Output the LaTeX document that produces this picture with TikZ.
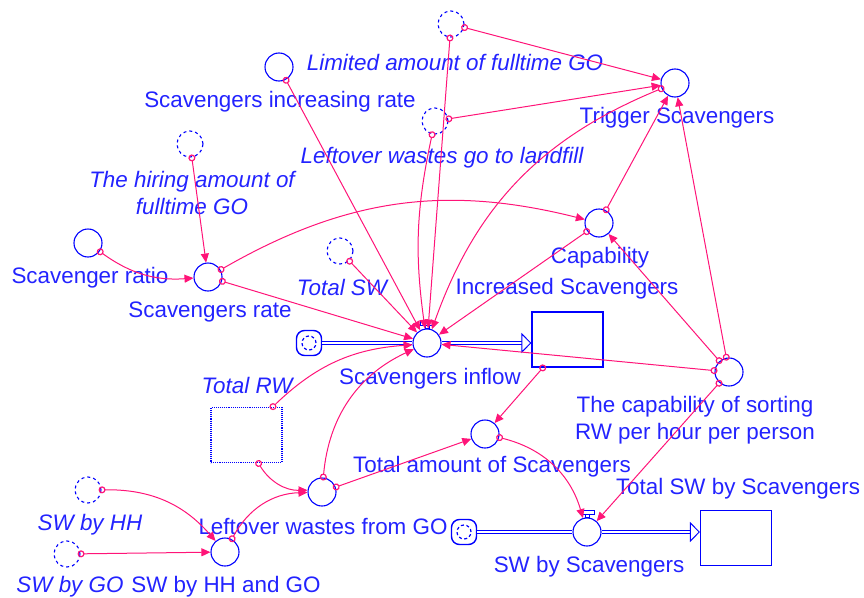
\documentclass[tikz,border=0pt]{standalone}
\usepackage{fontspec}
\setmainfont{Liberation Sans}
\usetikzlibrary{arrows.meta,calc}

\definecolor{vblue}{RGB}{0,0,255}
\definecolor{tblue}{RGB}{35,35,255}
\definecolor{lpink}{RGB}{255,20,120}

\tikzset{
  aux/.style={circle, draw=vblue, line width=1.1pt, minimum size=28pt, inner sep=0pt, fill=white},
  shadowvar/.style={aux, dashed, minimum size=26pt},
  stockbox/.style={rectangle, draw=vblue, line width=1.1pt, minimum width=71pt, minimum height=55pt, inner sep=0pt, fill=white},
  ghostbox/.style={stockbox, densely dotted},
  srccloud/.style={rectangle, rounded corners=8pt, draw=vblue, line width=1.4pt, minimum size=25pt, inner sep=0pt, fill=white,
    path picture={\draw [vblue, dash pattern=on 3pt off 2.5pt, line width=1.2pt] (path picture bounding box.center) circle (7pt);}},
  lbl/.style={text=tblue, inner sep=0pt, font=\fontsize{22.4}{27}\selectfont, align=center},
  ilbl/.style={lbl, font=\fontsize{22.4}{27}\selectfont\itshape},
  infolink/.style={draw=lpink, line width=1pt, shorten <=-3pt,
    {Circle[open,length=7pt,width=7pt,line width=1.2pt]}-{Triangle[length=9pt,width=8pt]}},
  pipe/.style={draw=vblue, line width=1.1pt, double=white, double distance=2.6pt},
  pipehead/.style={-{Triangle[open,length=10pt,width=20pt,line width=1pt,fill=white]}}
}

\begin{document}
\begin{tikzpicture} [x=1pt, y=-1pt]
\useasboundingbox (0,0) rectangle (864,597);

% variables
\node [aux] (sir) at (279,67) {};
\node [lbl] (sirl) at (280,102) {Scavengers increasing rate};

\node [shadowvar] (lag) at (451,24) {};
\node [ilbl] (lagl) at (455,62) {Limited amount of fulltime GO};

\node [shadowvar] (lwl) at (435,121) {};
\node [ilbl] (lwll) at (442,158) {Leftover wastes go to landfill};

\node [aux] (trg) at (675,83) {};
\node [lbl] (trgl) at (677,118) {Trigger Scavengers};

\node [aux] (cap) at (599,223) {};
\node [lbl] (capl) at (600,258) {Capability};

\node [aux] (sra) at (88,243) {};
\node [lbl] (sral) at (90,278) {Scavenger ratio};

\node [shadowvar] (hir) at (190,144) {};
\node [ilbl] (hirl) at (192,193) {The hiring amount of\\fulltime GO};

\node [aux] (srt) at (208,277) {};
\node [lbl] (srtl) at (210,312) {Scavengers rate};

\node [shadowvar] (tsw) at (340,251) {};
\node [ilbl] (tswl) at (342,287) {Total SW};

\node [aux] (cos) at (729,372) {};
\node [lbl] (cosl) at (695,420) {The capability of sorting\\RW per hour per person};

\node [aux] (tas) at (485,434) {};
\node [lbl] (tasl) at (492,467) {Total amount of Scavengers};

\node [ghostbox] (trw) at (246.5,435) {};
\node [ilbl] (trwl) at (247,385) {Total RW};

\node [aux] (lgo) at (322,492) {};
\node [lbl] (lgol) at (323,526) {Leftover wastes from GO};

\node [aux] (hg) at (225,552) {};
\node [lbl] (hgl) at (226,587) {SW by HH and GO};

\node [shadowvar] (shh) at (88,490) {};
\node [ilbl] (shhl) at (90,525) {SW by HH};

\node [shadowvar] (sgo) at (67,554) {};
\node [ilbl] (sgol) at (70,587) {SW by GO};

% flows and stocks
\node [srccloud] (src1) at (309,343) {};
\node [aux] (inf) at (427,343) {};
\node [lbl] (infl) at (430,379) {Scavengers inflow};
\node [stockbox] (isc) at (567.5,339.5) {};
\node [lbl] (iscl) at (567,289) {Increased Scavengers};

\node [srccloud] (src2) at (464,532) {};
\node [aux] (svs) at (587,532) {};
\node [lbl] (svsl) at (589,567) {SW by Scavengers};
\node [stockbox] (tss) at (736,538) {};
\node [lbl] (tssl) at (738,489) {Total SW by Scavengers};

\draw [pipe] (src1) -- (inf);
\draw [pipe, pipehead] (inf) -- (inf -| isc.west);
\draw [pipe] (src2) -- (svs);
\draw [pipe, pipehead] (svs) -- (svs -| tss.west);

\draw [vblue, line width=1pt] ($(inf.north)+(-7,-7)$) rectangle ($(inf.north)+(7,-3)$);
\draw [vblue, line width=1pt] ($(inf.north)+(-2,-3)$) rectangle ($(inf.north)+(2,0)$);
\draw [vblue, line width=1pt] ($(svs.north)+(-7,-7)$) rectangle ($(svs.north)+(7,-3)$);
\draw [vblue, line width=1pt] ($(svs.north)+(-2,-3)$) rectangle ($(svs.north)+(2,0)$);

% links
\draw [infolink] (sir) -- (inf);
\draw [infolink] (lag) -- (inf);
\draw [infolink] (lag) -- (trg);
\draw [infolink] (lwl) to [bend right=10] (inf);
\draw [infolink] (lwl) -- (trg);
\draw [infolink] (trg) to [bend right=24] (inf);
\draw [infolink] (cap) -- (inf);
\draw [infolink] (cap) -- (trg);
\draw [infolink] (srt) to [bend left=22] (cap);
\draw [infolink] (srt) -- (inf);
\draw [infolink] (sra) to [bend right=20] (srt);
\draw [infolink] (hir) -- (srt);
\draw [infolink] (tsw) -- (inf);
\draw [infolink] (trw) to [bend left=20] (inf);
\draw [infolink] (trw) to [bend right=30] (lgo);
\draw [infolink] (lgo) to [bend left=30] (inf);
\draw [infolink] (lgo) -- (tas);
\draw [infolink] (hg) to [bend left=30] (lgo);
\draw [infolink] (shh) to [bend left=25] (hg);
\draw [infolink] (sgo) -- (hg);
\draw [infolink] (isc) -- (tas);
\draw [infolink] (tas) to [bend left=30] (svs);
\draw [infolink] (cos) -- (inf);
\draw [infolink] (cos) -- (trg);
\draw [infolink] (cos) -- (cap);
\draw [infolink] (cos) -- (svs);

\end{tikzpicture}
\end{document}
